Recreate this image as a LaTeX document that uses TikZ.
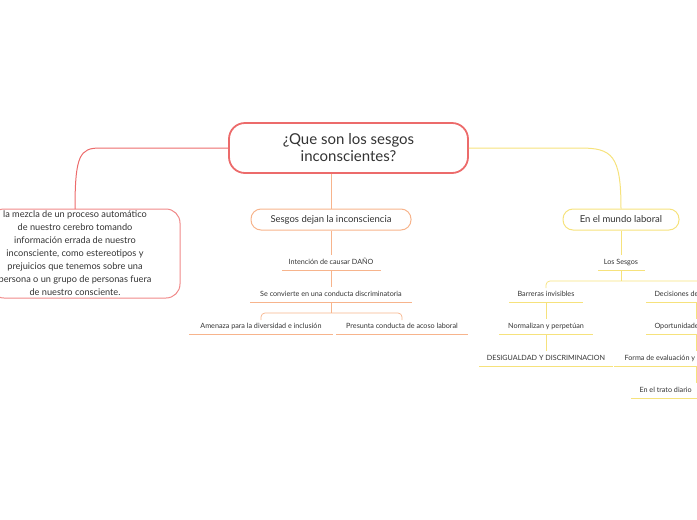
\documentclass[tikz,border=0pt]{standalone}
\usepackage{fontspec}
\setmainfont{Lato}
\definecolor{cred}{HTML}{EC6B6B}
\definecolor{cora}{HTML}{F7B48C}
\definecolor{cyel}{HTML}{F6E27C}
\definecolor{ctxt}{HTML}{333333}
\begin{document}
\begin{tikzpicture}[x=1pt,y=-1pt,
  box/.style={draw,rounded corners=10pt,text=ctxt,align=center,inner sep=0pt},
  leaf/.style={text=ctxt,font=\fontsize{7.2}{8}\selectfont,anchor=base},
  uline/.style={line width=0.7pt}]
\useasboundingbox (0,0) rectangle (697,520);
\clip (0,0) rectangle (697,520);
% root
\node[box,draw=cred,line width=1.8pt,rounded corners=16pt,minimum width=239pt,minimum height=50pt,font=\fontsize{15}{17}\selectfont] (root) at (348.5,148) {¿Que son los sesgos\\inconscientes?};
% left box
\node[box,draw=cred!80,line width=1pt,rounded corners=14pt,minimum width=190pt,minimum height=89pt,font=\fontsize{9.2}{13}\selectfont] (def) at (85,253.5) {\hspace*{-20pt}la mezcla de un proceso automático\\\hspace*{-20pt}de nuestro cerebro tomando\\\hspace*{-20pt}información errada de nuestro\\\hspace*{-20pt}inconsciente, como estereotipos y\\\hspace*{-20pt}prejuicios que tenemos sobre una\\\hspace*{-20pt}persona o un grupo de personas fuera\\\hspace*{-20pt}de nuestro consciente.};
\coordinate (defT) at (75,209);
\draw[cred,line width=1pt] (root.west) -- (100,148) .. controls (80,148) and (75,155) .. (defT);
% middle
\node[box,draw=cora,line width=1pt,minimum width=160pt,minimum height=21pt,font=\fontsize{9.5}{11}\selectfont] (mid) at (331,219.5) {Sesgos dejan la inconsciencia};
\draw[cora,line width=1pt] (root.south -| mid.north) -- (mid.north);
\node[leaf] (m1) at (331,264.5) {Intención de causar DAÑO};
\node[leaf] (m2) at (331,296.5) {Se convierte en una conducta discriminatoria};
\node[leaf] (m3) at (261,328.5) {Amenaza para la diversidad e inclusión};
\node[leaf] (m4) at (402,328.5) {Presunta conducta de acoso laboral};
\coordinate (u1) at (331,270);\coordinate (u2) at (331,302);\coordinate (b1) at (331,313);
\draw[cora,uline] (282,270) -- (381,270) (250,302) -- (412,302) (189,334) -- (333,334) (336,334) -- (468,334);
\draw[cora,uline] (mid.south) -- (331,255) (u1) -- (331,287) (u2) -- (b1);
\draw[cora,uline,rounded corners=4pt] (261,320) -- (261,313) -- (402,313) -- (402,320);
% right
\node[box,draw=cyel,line width=1pt,minimum width=116pt,minimum height=21pt,font=\fontsize{9.5}{11}\selectfont] (lab) at (621,219.5) {En el mundo laboral};
\draw[cyel,line width=1pt] (root.east) -- (580,148) .. controls (612,148) and (621,155) .. (lab.north);
\node[leaf] (s) at (621,264.5) {Los Sesgos};
\draw[cyel,uline] (598,270) -- (645,270) (lab.south) -- (621,255) (621,270) -- (621,281);
\draw[cyel,uline,rounded corners=4pt] (546,288) -- (546,281) -- (700,281);
\node[leaf] (a1) at (546,296.5) {Barreras invisibles};
\node[leaf] (a2) at (546,328.5) {Normalizan y perpetúan};
\node[leaf] (a3) at (546,360.5) {DESIGUALDAD Y DISCRIMINACION};
\draw[cyel,uline] (509,302) -- (583,302) (499,334) -- (593,334) (479,366) -- (613,366)
  (546,302) -- (546,319) (546,334) -- (546,351);
\node[leaf,anchor=base west] (c1) at (651,296.5) {Decisiones de};
\node[leaf,anchor=base west] (c2) at (651,328.5) {Oportunidade};
\node[leaf,anchor=base west] (c3) at (621,360.5) {Forma de evaluación y};
\node[leaf,anchor=base west] (c4) at (636,392.5) {En el trato diario};
\draw[cyel,uline] (646,302) -- (700,302) (646,334) -- (700,334) (614,366) -- (700,366) (631,398) -- (700,398)
  (696,302) -- (696,319) (696,334) -- (696,351) (696,366) -- (696,383);
\end{tikzpicture}
\end{document}
